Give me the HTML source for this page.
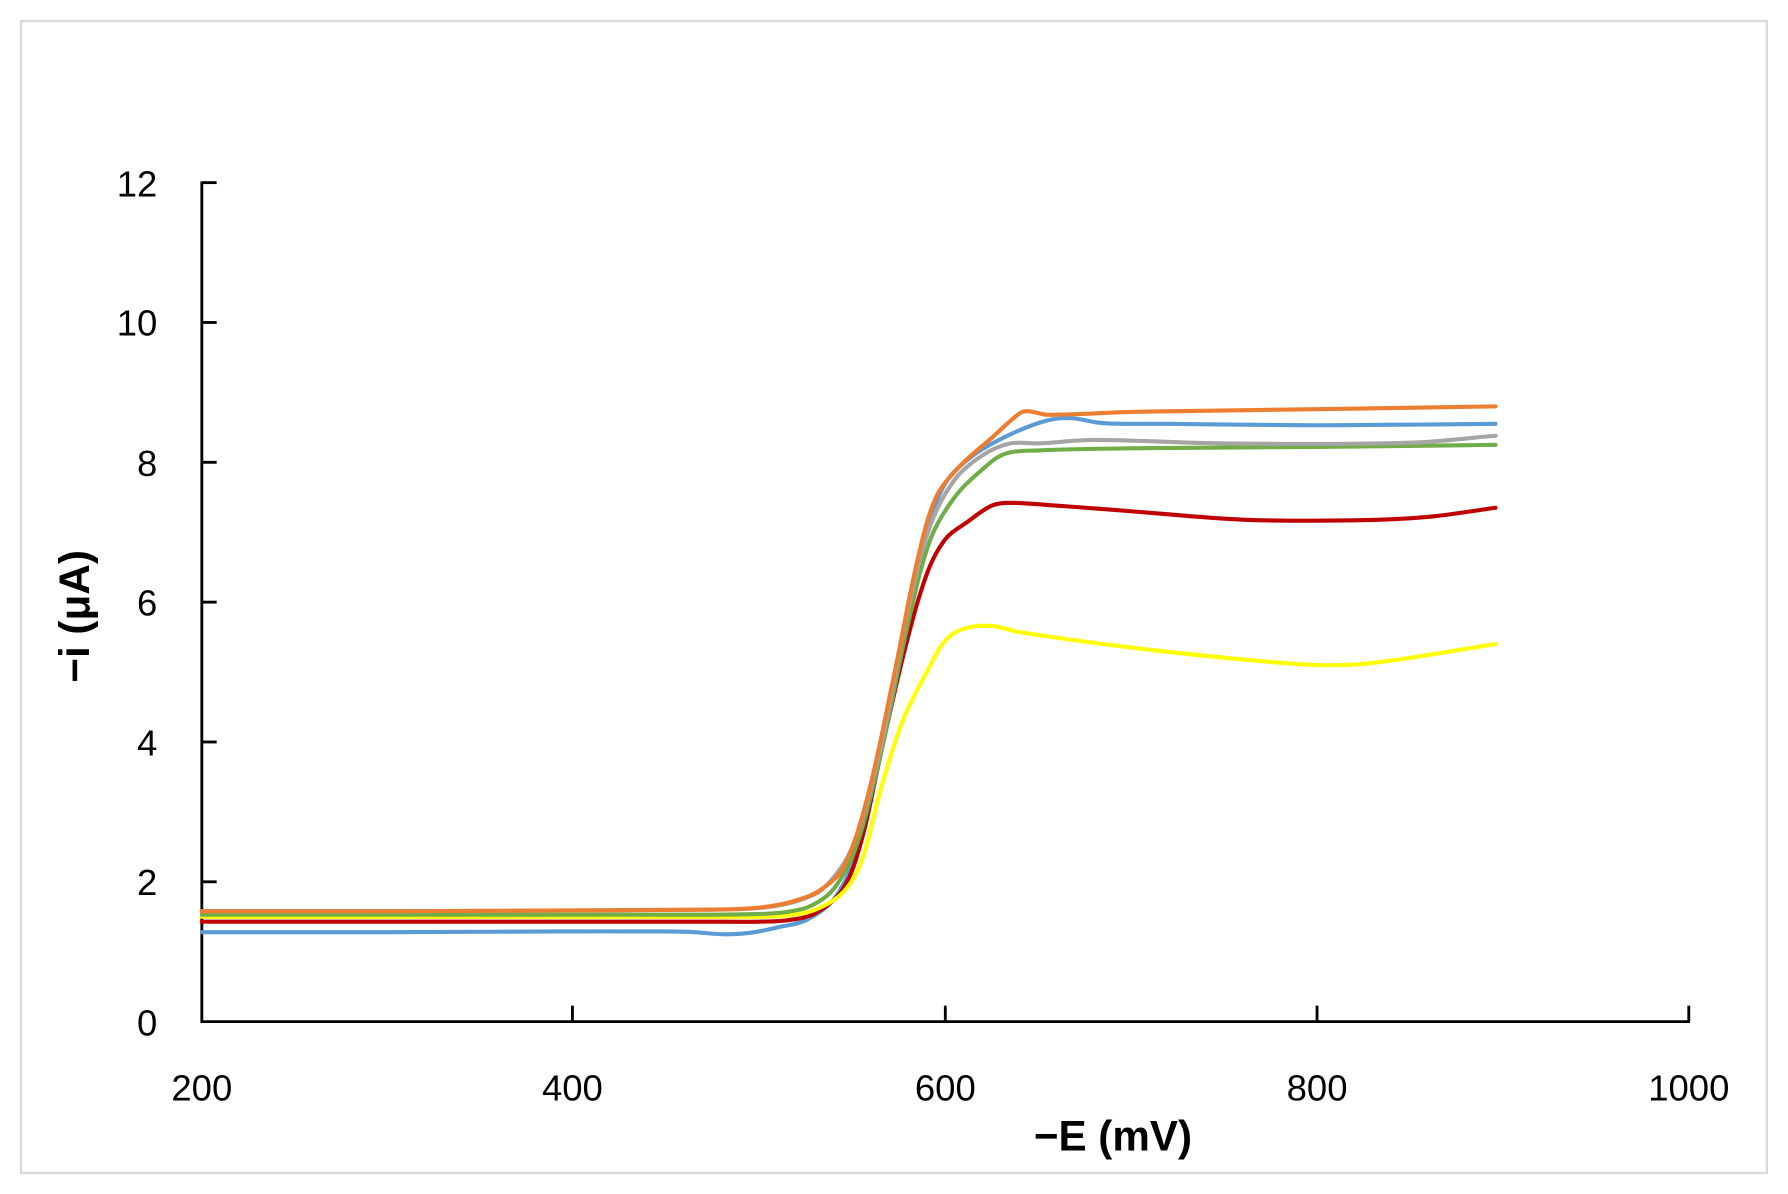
<!DOCTYPE html>
<html><head><meta charset="utf-8"><style>
html,body{margin:0;padding:0;background:#fff;}
svg{display:block;}
text{font-family:"Liberation Sans",sans-serif;}
</style></head><body>
<svg id="s" width="1788" height="1194" viewBox="0 0 1568 1046" preserveAspectRatio="none" xmlns="http://www.w3.org/2000/svg">
<rect x="0" y="0" width="1568" height="1046" fill="#fff"/>
<rect x="18.5" y="18.5" width="1531" height="1009" fill="#fff" stroke="#d9d9d9" stroke-width="2"/>
<g stroke="#000" stroke-width="2.5" fill="none">
<line x1="177" y1="159" x2="177" y2="896"/>
<line x1="176" y1="895" x2="1482" y2="895"/>
<line x1="177" y1="160" x2="190" y2="160"/>
<line x1="177" y1="282.5" x2="190" y2="282.5"/>
<line x1="177" y1="405" x2="190" y2="405"/>
<line x1="177" y1="527.5" x2="190" y2="527.5"/>
<line x1="177" y1="650" x2="190" y2="650"/>
<line x1="177" y1="772.5" x2="190" y2="772.5"/>
<line x1="502" y1="895" x2="502" y2="881"/>
<line x1="829" y1="895" x2="829" y2="881"/>
<line x1="1155" y1="895" x2="1155" y2="881"/>
<line x1="1481" y1="895" x2="1481" y2="881"/>
</g>
<g font-size="32" fill="#000" text-anchor="end">
<text x="138" y="172">12</text><text x="138" y="294">10</text><text x="138" y="417">8</text>
<text x="138" y="539">6</text><text x="138" y="662">4</text><text x="138" y="784">2</text><text x="138" y="907">0</text>
</g>
<g font-size="32" fill="#000" text-anchor="middle">
<text x="177" y="964">200</text><text x="502" y="964">400</text><text x="829" y="964">600</text>
<text x="1155" y="964">800</text><text x="1481" y="964">1000</text>
</g>
<text x="976" y="1008" font-size="37" font-weight="bold" text-anchor="middle">−E (mV)</text>
<text transform="translate(78,540) rotate(-90)" font-size="37" font-weight="bold" text-anchor="middle">−i (μA)</text>
<g id="c" fill="none" stroke-width="3.6" stroke-linejoin="round" stroke-linecap="round"></g>
</svg>
<script>
var X=function(m){return 177+(m-200)*1.63},Y=function(i){return 895-i*61.25};
var S=[
["#5b9bd5",[[200,1.28],[300,1.28],[400,1.29],[450,1.29],[465,1.28],[480,1.25],[495,1.27],[510,1.35],[525,1.45],[540,1.75],[552,2.4],[565,3.8],[578,5.6],[590,7.0],[600,7.7],[615,8.1],[635,8.4],[655,8.6],[668,8.63],[685,8.56],[720,8.55],[800,8.53],[896,8.55]]],
["#c00000",[[200,1.43],[300,1.43],[400,1.43],[470,1.43],[500,1.43],[515,1.45],[530,1.55],[545,1.9],[555,2.6],[565,3.8],[578,5.3],[590,6.4],[600,6.9],[612,7.15],[625,7.38],[635,7.42],[660,7.38],[700,7.3],[760,7.18],[820,7.17],[860,7.22],[896,7.35]]],
["#ffff00",[[200,1.5],[300,1.5],[400,1.5],[470,1.5],[500,1.5],[515,1.52],[530,1.6],[545,1.85],[555,2.3],[565,3.3],[577,4.3],[590,5.0],[600,5.45],[610,5.62],[625,5.66],[640,5.57],[700,5.35],[760,5.18],[800,5.1],[830,5.13],[896,5.4]]],
["#70ad47",[[200,1.53],[300,1.53],[400,1.53],[470,1.53],[500,1.54],[515,1.57],[528,1.66],[540,1.9],[552,2.5],[565,3.8],[580,5.7],[592,6.9],[605,7.5],[620,7.9],[632,8.12],[650,8.17],[700,8.2],[800,8.22],[896,8.25]]],
["#a5a5a5",[[200,1.58],[300,1.58],[400,1.59],[460,1.6],[490,1.61],[508,1.65],[522,1.74],[535,1.92],[550,2.5],[565,3.9],[580,5.9],[592,7.1],[605,7.75],[620,8.1],[635,8.27],[650,8.27],[680,8.32],[750,8.27],[850,8.28],[896,8.38]]],
["#ed7d31",[[200,1.58],[300,1.58],[400,1.59],[460,1.6],[488,1.61],[503,1.64],[518,1.72],[532,1.87],[545,2.2],[558,3.2],[572,4.9],[585,6.6],[595,7.5],[608,7.95],[625,8.35],[640,8.7],[645,8.73],[655,8.68],[700,8.72],[800,8.76],[896,8.8]]]
];
function path(p){p=p.map(function(a){return [X(a[0]),Y(a[1])]});var d="M"+p[0][0]+","+p[0][1];
for(var i=0;i<p.length-1;i++){var p0=p[i-1]||p[i],p1=p[i],p2=p[i+1],p3=p[i+2]||p2;
var l=Math.hypot(p2[0]-p1[0],p2[1]-p1[1]);
var t1x=p2[0]-p0[0],t1y=p2[1]-p0[1],n1=Math.hypot(t1x,t1y)||1;
var t2x=p3[0]-p1[0],t2y=p3[1]-p1[1],n2=Math.hypot(t2x,t2y)||1;
d+=" C"+(p1[0]+t1x/n1*l/3)+","+(p1[1]+t1y/n1*l/3)+" "+(p2[0]-t2x/n2*l/3)+","+(p2[1]-t2y/n2*l/3)+" "+p2[0]+","+p2[1];}return d;}
var g=document.getElementById("c");
S.forEach(function(s){var e=document.createElementNS("http://www.w3.org/2000/svg","path");e.setAttribute("d",path(s[1]));e.setAttribute("stroke",s[0]);g.appendChild(e);});
</script>
</body></html>
